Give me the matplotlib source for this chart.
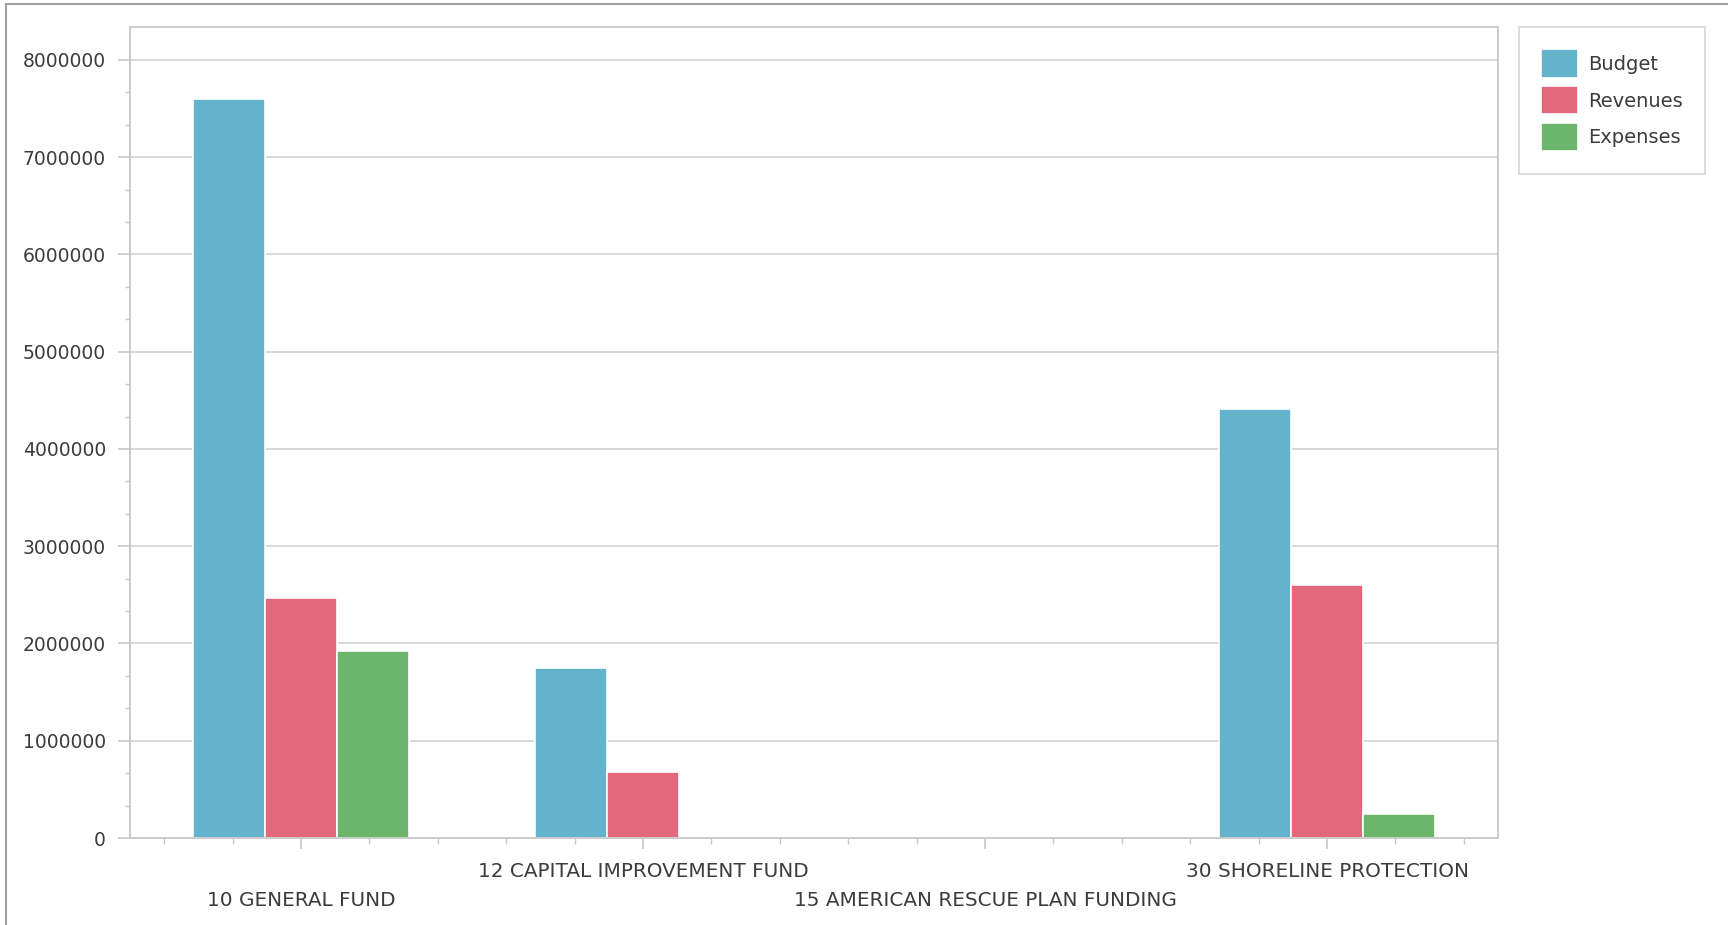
## grouped bar chart : budget / revenues / expenses per fund
import numpy as np
import matplotlib
matplotlib.use('Agg')
import matplotlib.pyplot as plt
from matplotlib.lines import Line2D
from matplotlib.ticker import MultipleLocator

## data
funds    = ['10 GENERAL FUND', '12 CAPITAL IMPROVEMENT FUND',
            '15 AMERICAN RESCUE PLAN FUNDING', '30 SHORELINE PROTECTION']
series   = ['Budget', 'Revenues', 'Expenses']
budget   = [7600000, 1750000, 0, 4410000]
revenues = [2470000, 677000, 0, 2600000]
expenses = [1920000, 0, 0, 247000]

## style
colors   = ['#62b3cb', '#e4687b', '#6cb66b']
c_text   = '#3c3c3c'
c_grid   = '#d6d6d6'
c_axis   = '#c8c8c8'
W, H     = 1728, 925
dpi      = 100

plt.rcParams['font.family'] = ['DejaVu Sans']

fig = plt.figure(figsize=(W/dpi, H/dpi), dpi=dpi)
ax  = fig.add_axes([130/W, 1-838/H, (1498-130)/W, (838-27.5)/H])

x  = np.arange(len(funds))
bw = 0.211
for k, (name, vals) in enumerate(zip(series, [budget, revenues, expenses])):
    ax.bar(x + (k-1)*bw, vals, width=bw, color=colors[k], label=name,
           edgecolor='white', linewidth=1.2, zorder=3)

ax.set_xlim(-0.5, 3.5)
ax.set_ylim(0, 8333333)

## y axis
ax.yaxis.set_minor_locator(MultipleLocator(1000000/3))
ax.set_yticks(np.arange(0, 8000001, 1000000))
ax.set_yticklabels(['%d' % v for v in np.arange(0, 8000001, 1000000)])
ax.grid(axis='y', which='major', color=c_grid, linewidth=1.3, zorder=0)

## x axis
ax.set_xticks(x)
ax.set_xticklabels(funds)
ax.xaxis.set_minor_locator(MultipleLocator(0.2))

ax.tick_params(axis='both', which='major', color=c_axis, width=1.2,
               labelcolor=c_text)
ax.tick_params(axis='y', which='major', length=8.6, pad=8.6, labelsize=13.5)
ax.tick_params(axis='y', which='minor', length=3.6, color=c_axis, width=1.0)
ax.tick_params(axis='x', which='major', length=8, labelsize=14.4)
ax.tick_params(axis='x', which='minor', length=4, color=c_axis, width=1.0)

## staggered category labels
for i, t in enumerate(ax.xaxis.get_major_ticks()):
    if i % 2 == 0:
        t.set_pad(30.5)
    else:
        t.set_pad(9.5)

for s in ax.spines.values():
    s.set_color(c_axis)
    s.set_linewidth(1.3)
    s.set_zorder(4)

## legend
leg = fig.legend(loc='upper left', bbox_to_anchor=(1519/W, 1-27/H),
                 borderaxespad=0, fontsize=14, frameon=True, fancybox=False,
                 handlelength=1.9, handleheight=1.85, labelspacing=0.45,
                 borderpad=1.15, handletextpad=0.5)
leg.get_frame().set_edgecolor('#d0d0d0')
leg.get_frame().set_linewidth(1.3)
for t in leg.get_texts():
    t.set_color(c_text)

## outer frame (top and left)
fig.add_artist(Line2D([6/W, 1], [1-4/H, 1-4/H], transform=fig.transFigure,
                      color='#a0a0a0', linewidth=1.5))
fig.add_artist(Line2D([6/W, 6/W], [0, 1-4/H], transform=fig.transFigure,
                      color='#a0a0a0', linewidth=1.5))

fig.savefig('out.png', dpi=dpi)
